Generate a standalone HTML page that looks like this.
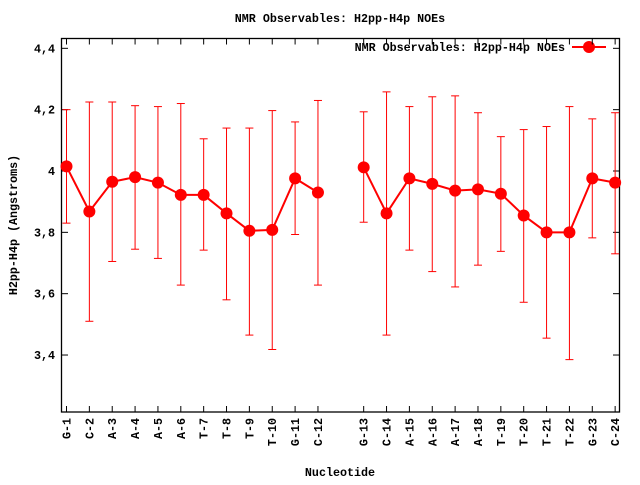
<!DOCTYPE html>
<html><head><meta charset="utf-8"><style>
html,body{margin:0;padding:0;background:#fff;}
svg text{font-family:"Liberation Mono",monospace;font-weight:bold;font-size:11.7px;fill:#000;}
</style></head><body>
<svg id="s" width="640" height="480" xmlns="http://www.w3.org/2000/svg">
<rect x="0" y="0" width="640" height="480" fill="#fff"/>
<rect x="61.5" y="38.5" width="558" height="373.5" fill="none" stroke="#000" stroke-width="1.3"/>
<text x="340" y="22" text-anchor="middle">NMR Observables: H2pp-H4p NOEs</text>
<text x="340" y="476" text-anchor="middle">Nucleotide</text>
<text transform="translate(17,225) rotate(-90)" text-anchor="middle">H2pp-H4p (Angstroms)</text>
<text x="565" y="51" text-anchor="end">NMR Observables: H2pp-H4p NOEs</text>
<line x1="572" y1="47" x2="606" y2="47" stroke="#f00" stroke-width="2"/>
<circle cx="589" cy="47" r="6" fill="#f00"/>
<g id="g"></g>
</svg>
<script>
var d=[["G-1",4.015,3.83,4.20],["C-2",3.868,3.51,4.225],["A-3",3.965,3.705,4.225],["A-4",3.98,3.745,4.213],["A-5",3.962,3.715,4.21],["A-6",3.922,3.628,4.22],["T-7",3.922,3.742,4.105],["T-8",3.862,3.58,4.14],["T-9",3.805,3.465,4.14],["T-10",3.808,3.418,4.197],["G-11",3.976,3.793,4.16],["C-12",3.93,3.628,4.23],null,["G-13",4.012,3.833,4.193],["C-14",3.862,3.465,4.258],["A-15",3.976,3.742,4.21],["A-16",3.958,3.672,4.242],["A-17",3.936,3.622,4.245],["A-18",3.94,3.693,4.19],["T-19",3.926,3.738,4.112],["T-20",3.855,3.572,4.135],["T-21",3.8,3.455,4.145],["T-22",3.8,3.385,4.21],["G-23",3.976,3.782,4.17],["C-24",3.962,3.73,4.19]];
function X(p){return 66.5+p*22.86;}
function Y(v){return 171-(v-4)*306.7;}
var h="";
[3.4,3.6,3.8,4.0,4.2,4.4].forEach(function(v){var y=Y(v);
h+='<line x1="61.5" y1="'+y+'" x2="68" y2="'+y+'" stroke="#000"/><line x1="613" y1="'+y+'" x2="619.5" y2="'+y+'" stroke="#000"/>';
h+='<text x="55" y="'+(y+4)+'" text-anchor="end">'+(v==4?"4":v.toFixed(1).replace(".",","))+'</text>';});
var segs=[[],[]],si=0;
d.forEach(function(e,p){if(!e){si=1;return;}var x=X(p);
h+='<line x1="'+x+'" y1="412" x2="'+x+'" y2="406" stroke="#000"/><line x1="'+x+'" y1="38.5" x2="'+x+'" y2="44.5" stroke="#000"/>';
h+='<text transform="translate('+(x+4)+',418) rotate(-90)" text-anchor="end">'+e[0]+'</text>';
var a=Y(e[2]),b=Y(e[3]);
h+='<line x1="'+x+'" y1="'+a+'" x2="'+x+'" y2="'+b+'" stroke="#f00"/><line x1="'+(x-4)+'" y1="'+a+'" x2="'+(x+4)+'" y2="'+a+'" stroke="#f00"/><line x1="'+(x-4)+'" y1="'+b+'" x2="'+(x+4)+'" y2="'+b+'" stroke="#f00"/>';
segs[si].push(x+","+Y(e[1]));});
segs.forEach(function(s){h+='<polyline points="'+s.join(" ")+'" fill="none" stroke="#f00" stroke-width="2"/>';});
d.forEach(function(e,p){if(e)h+='<circle cx="'+X(p)+'" cy="'+Y(e[1])+'" r="6" fill="#f00"/>';});
document.getElementById("g").innerHTML=h;
</script>
</body></html>
